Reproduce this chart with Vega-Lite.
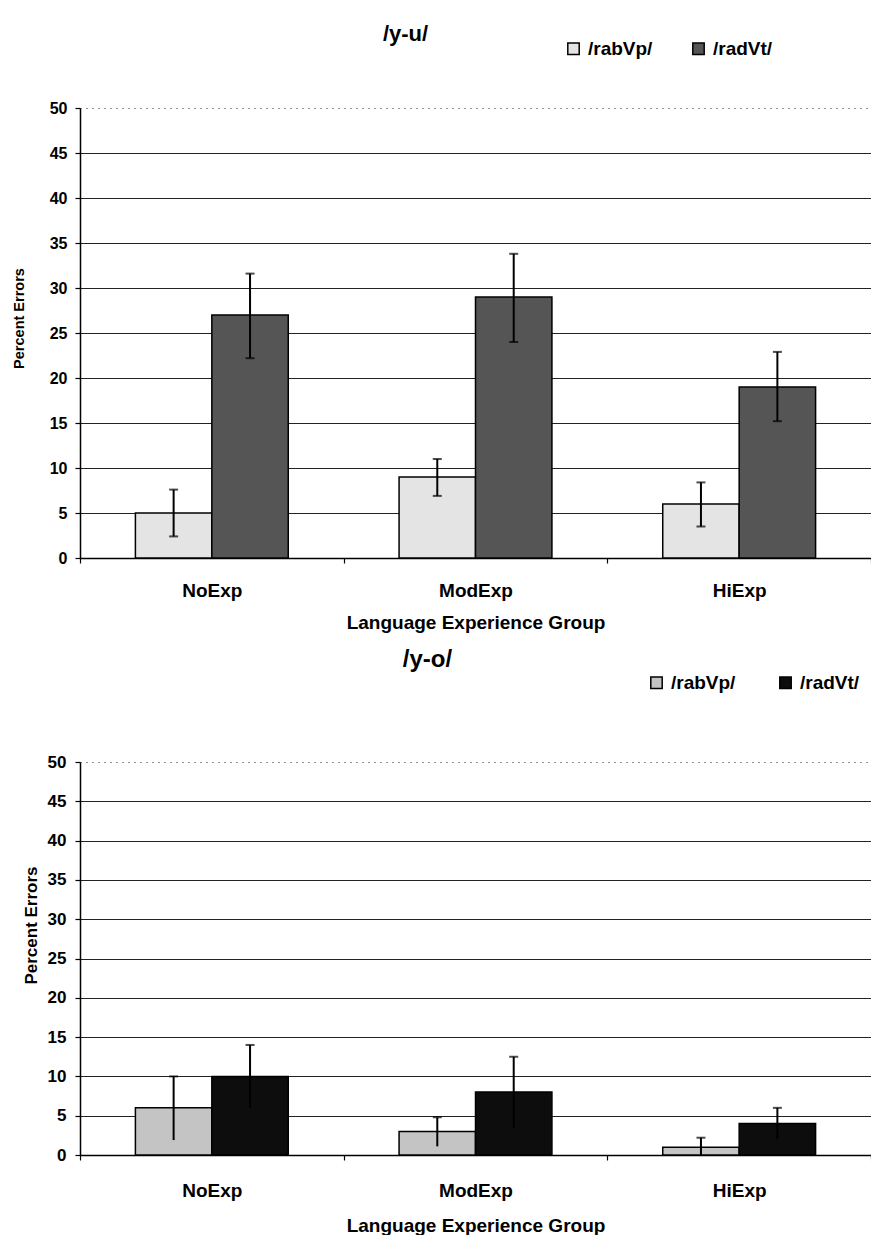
{
  "$schema": "https://vega.github.io/schema/vega-lite/v6.json",
  "background": "white",
  "padding": {"left": 11, "top": 23, "right": 0, "bottom": 0},
  "spacing": 16,
  "resolve": {"scale": {"color": "independent", "y": "independent", "x": "independent", "xOffset": "independent"}, "legend": {"color": "independent"}, "axis": {"x": "independent", "y": "independent"}},
  "config": {
    "font": "Liberation Sans",
    "view": {"stroke": null},
    "axis": {"labelFont": "Liberation Sans", "titleFont": "Liberation Sans", "labelFontWeight": "bold", "titleFontWeight": "bold", "labelColor": "#000", "titleColor": "#000", "domainColor": "#000", "domainWidth": 1.5, "tickColor": "#000", "tickWidth": 1.2, "gridColor": "#222", "gridWidth": 1},
    "legend": {"labelFont": "Liberation Sans", "labelFontWeight": "bold", "labelColor": "#000"},
    "title": {"font": "Liberation Sans", "fontWeight": "bold", "color": "#000"}
  },
  "datasets": {
    "yu": [
      {"group": "NoExp", "cond": "/rabVp/", "value": 5, "lo": 2.4, "hi": 7.6},
      {"group": "NoExp", "cond": "/radVt/", "value": 27, "lo": 22.2, "hi": 31.6},
      {"group": "ModExp", "cond": "/rabVp/", "value": 9, "lo": 6.9, "hi": 11},
      {"group": "ModExp", "cond": "/radVt/", "value": 29, "lo": 24, "hi": 33.8},
      {"group": "HiExp", "cond": "/rabVp/", "value": 6, "lo": 3.5, "hi": 8.4},
      {"group": "HiExp", "cond": "/radVt/", "value": 19, "lo": 15.2, "hi": 22.9}
    ],
    "yo": [
      {"group": "NoExp", "cond": "/rabVp/", "value": 6, "lo": 1.9, "hi": 10},
      {"group": "NoExp", "cond": "/radVt/", "value": 10, "lo": 6, "hi": 14},
      {"group": "ModExp", "cond": "/rabVp/", "value": 3, "lo": 1.1, "hi": 4.8},
      {"group": "ModExp", "cond": "/radVt/", "value": 8, "lo": 3.5, "hi": 12.5},
      {"group": "HiExp", "cond": "/rabVp/", "value": 1, "lo": 0, "hi": 2.2},
      {"group": "HiExp", "cond": "/radVt/", "value": 4, "lo": 2, "hi": 6}
    ]
  },
  "vconcat": [
    {
      "data": {"name": "yu"},
      "width": 791,
      "height": 450,
      "title": {"text": "/y-u/", "fontSize": 22, "anchor": "middle", "dx": -70, "offset": -7},
      "encoding": {
        "x": {"field": "group", "type": "nominal", "sort": ["NoExp", "ModExp", "HiExp"],
              "scale": {"paddingInner": 0, "paddingOuter": 0},
              "axis": {"title": "Language Experience Group", "labelAngle": 0, "labelFontSize": 19, "titleFontSize": 19, "labelPadding": 18, "titlePadding": 13, "tickBand": "extent", "tickSize": 5, "grid": false}},
        "xOffset": {"field": "cond", "type": "nominal", "sort": ["/rabVp/", "/radVt/"], "scale": {"paddingInner": 0, "paddingOuter": 0.725}}
      },
      "layer": [
        {
          "mark": {"type": "bar", "stroke": "#000", "strokeWidth": 1.5},
          "encoding": {
            "y": {"field": "value", "type": "quantitative", "scale": {"domain": [0, 50]},
                  "axis": {"title": "Percent Errors", "values": [0,5,10,15,20,25,30,35,40,45,50], "labelFontSize": 16, "titleFontSize": 14.5, "tickSize": 5, "labelPadding": 8, "titlePadding": 23, "titleY": 210,
                           "gridDash": {"condition": {"test": "datum.value == 50", "value": [1, 5]}, "value": []}}},
            "color": {"field": "cond", "type": "nominal",
                      "scale": {"domain": ["/rabVp/", "/radVt/"], "range": ["#e4e4e4", "#555555"]},
                      "legend": {"title": null, "orient": "none", "direction": "horizontal", "legendX": 484, "legendY": -69, "symbolType": "square", "symbolSize": 130, "symbolStrokeColor": "#000", "symbolStrokeWidth": 1.5, "labelFontSize": 19, "columnPadding": 36, "labelOffset": 5}}
          }
        },
        {
          "mark": {"type": "rule", "color": "#000", "strokeWidth": 2},
          "encoding": {"y": {"field": "lo", "type": "quantitative",
                  "axis": {"title": "Percent Errors", "values": [0,5,10,15,20,25,30,35,40,45,50], "labelFontSize": 16, "titleFontSize": 14.5, "tickSize": 5, "labelPadding": 8, "titlePadding": 23, "titleY": 210,
                           "gridDash": {"condition": {"test": "datum.value == 50", "value": [1, 5]}, "value": []}}}, "y2": {"field": "hi"}}
        },
        {
          "mark": {"type": "tick", "color": "#000", "thickness": 2, "size": 9},
          "encoding": {"y": {"field": "hi", "type": "quantitative",
                  "axis": {"title": "Percent Errors", "values": [0,5,10,15,20,25,30,35,40,45,50], "labelFontSize": 16, "titleFontSize": 14.5, "tickSize": 5, "labelPadding": 8, "titlePadding": 23, "titleY": 210,
                           "gridDash": {"condition": {"test": "datum.value == 50", "value": [1, 5]}, "value": []}}}}
        },
        {
          "mark": {"type": "tick", "color": "#000", "thickness": 2, "size": 9},
          "encoding": {"y": {"field": "lo", "type": "quantitative",
                  "axis": {"title": "Percent Errors", "values": [0,5,10,15,20,25,30,35,40,45,50], "labelFontSize": 16, "titleFontSize": 14.5, "tickSize": 5, "labelPadding": 8, "titlePadding": 23, "titleY": 210,
                           "gridDash": {"condition": {"test": "datum.value == 50", "value": [1, 5]}, "value": []}}}}
        }
      ]
    },
    {
      "data": {"name": "yo"},
      "width": 791,
      "height": 393,
      "title": {"text": "/y-o/", "fontSize": 24, "anchor": "middle", "dx": -48, "offset": 1},
      "encoding": {
        "x": {"field": "group", "type": "nominal", "sort": ["NoExp", "ModExp", "HiExp"],
              "scale": {"paddingInner": 0, "paddingOuter": 0},
              "axis": {"title": "Language Experience Group", "labelAngle": 0, "labelFontSize": 19, "titleFontSize": 19, "labelPadding": 21, "titlePadding": 16, "tickBand": "extent", "tickSize": 5, "grid": false}},
        "xOffset": {"field": "cond", "type": "nominal", "sort": ["/rabVp/", "/radVt/"], "scale": {"paddingInner": 0, "paddingOuter": 0.725}}
      },
      "layer": [
        {
          "mark": {"type": "bar", "stroke": "#000", "strokeWidth": 1.5},
          "encoding": {
            "y": {"field": "value", "type": "quantitative", "scale": {"domain": [0, 50]},
                  "axis": {"title": "Percent Errors", "values": [0,5,10,15,20,25,30,35,40,45,50], "labelFontSize": 17, "titleFontSize": 17, "tickSize": 5, "labelPadding": 9, "titlePadding": 7, "titleY": 163,
                           "gridDash": {"condition": {"test": "datum.value == 50", "value": [1, 5]}, "value": []}}},
            "color": {"field": "cond", "type": "nominal",
                      "scale": {"domain": ["/rabVp/", "/radVt/"], "range": ["#c4c4c4", "#0d0d0d"]},
                      "legend": {"title": null, "orient": "none", "direction": "horizontal", "legendX": 567, "legendY": -89, "symbolType": "square", "symbolSize": 130, "symbolStrokeColor": "#000", "symbolStrokeWidth": 1.5, "labelFontSize": 19, "columnPadding": 40, "labelOffset": 5}}
          }
        },
        {
          "mark": {"type": "rule", "color": "#000", "strokeWidth": 2},
          "encoding": {"y": {"field": "lo", "type": "quantitative",
                  "axis": {"title": "Percent Errors", "values": [0,5,10,15,20,25,30,35,40,45,50], "labelFontSize": 17, "titleFontSize": 17, "tickSize": 5, "labelPadding": 9, "titlePadding": 7, "titleY": 163,
                           "gridDash": {"condition": {"test": "datum.value == 50", "value": [1, 5]}, "value": []}}}, "y2": {"field": "hi"}}
        },
        {
          "mark": {"type": "tick", "color": "#000", "thickness": 2, "size": 9},
          "encoding": {"y": {"field": "hi", "type": "quantitative",
                  "axis": {"title": "Percent Errors", "values": [0,5,10,15,20,25,30,35,40,45,50], "labelFontSize": 17, "titleFontSize": 17, "tickSize": 5, "labelPadding": 9, "titlePadding": 7, "titleY": 163,
                           "gridDash": {"condition": {"test": "datum.value == 50", "value": [1, 5]}, "value": []}}}}
        }
      ]
    }
  ]
}
